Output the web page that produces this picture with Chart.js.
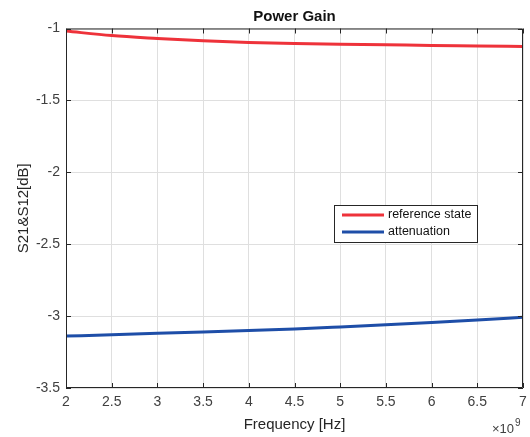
<!DOCTYPE html>
<html>
<head>
<meta charset="utf-8">
<script src="https://cdn.jsdelivr.net/npm/chart.js@4.4.0/dist/chart.umd.min.js"></script>
<style>
  html, body { margin: 0; padding: 0; background: #fff; }
  #wrap { width: 530px; height: 437px; }
</style>
</head>
<body>
<div id="wrap"><canvas id="myChart" width="530" height="437"></canvas></div>
<script>
// frequency in GHz (axis shows x10^9)
var freq = [2, 2.5, 3, 3.5, 4, 4.5, 5, 5.5, 6, 6.5, 7];
var refState = [-1.018, -1.049, -1.069, -1.086, -1.097, -1.104, -1.109, -1.113, -1.118, -1.121, -1.125];
var atten = [-3.139, -3.130, -3.120, -3.110, -3.100, -3.089, -3.075, -3.060, -3.044, -3.027, -3.008];
var yTicks = [-1, -1.5, -2, -2.5, -3, -3.5];
var xTicks = [2, 2.5, 3, 3.5, 4, 4.5, 5, 5.5, 6, 6.5, 7];

var axisColor = "#262626";
var textColor = "#404040";
var fontFam = "'Liberation Sans', Arial, sans-serif";

function toPoints(xs, ys) {
    var out = [];
    for (var i = 0; i < xs.length; i++) out.push({x: xs[i], y: ys[i]});
    return out;
}

// plain number labels like matlab (no trailing .0)
function plainLabel(v) { return String(v); }

// box, inner ticks, exponent and legend (matlab style)
var matlabBox = {
    id: "matlabBox",
    afterDraw: function(chart) {
        var ctx = chart.ctx;
        var a = chart.chartArea;
        var xs = chart.scales.x, ys = chart.scales.y;
        ctx.save();
        ctx.strokeStyle = axisColor;
        ctx.lineWidth = 1;
        ctx.beginPath();
        ctx.rect(a.left + 0.5, a.top + 0.5, a.right - a.left - 1, a.bottom - a.top - 1);
        for (var i = 0; i < xTicks.length; i++) {
            var px = Math.round(xs.getPixelForValue(xTicks[i])) + 0.5;
            ctx.moveTo(px, a.bottom); ctx.lineTo(px, a.bottom - 5);
            ctx.moveTo(px, a.top); ctx.lineTo(px, a.top + 5);
        }
        for (var j = 0; j < yTicks.length; j++) {
            var py = Math.round(ys.getPixelForValue(yTicks[j])) + 0.5;
            ctx.moveTo(a.left, py); ctx.lineTo(a.left + 5, py);
            ctx.moveTo(a.right, py); ctx.lineTo(a.right - 5, py);
        }
        ctx.stroke();

        // exponent
        ctx.fillStyle = textColor;
        ctx.textBaseline = "alphabetic";
        ctx.textAlign = "left";
        ctx.font = "13px " + fontFam;
        ctx.fillText("\u00d710", 492, 433);
        ctx.font = "10px " + fontFam;
        ctx.fillText("9", 515, 426);

        // legend
        var lx = 334, ly = 205, lw = 143, lh = 37;
        ctx.fillStyle = "#fff";
        ctx.fillRect(lx, ly, lw, lh);
        ctx.strokeStyle = axisColor;
        ctx.strokeRect(lx + 0.5, ly + 0.5, lw, lh);
        var ds = chart.data.datasets;
        ctx.font = "12.5px " + fontFam;
        ctx.textBaseline = "middle";
        for (var k = 0; k < ds.length; k++) {
            var yy = 215 + k * 17;
            ctx.strokeStyle = ds[k].borderColor;
            ctx.lineWidth = 3;
            ctx.beginPath();
            ctx.moveTo(342, yy); ctx.lineTo(384, yy);
            ctx.stroke();
            ctx.fillStyle = "#111";
            ctx.fillText(ds[k].label, 388, yy);
        }
        ctx.restore();
    }
};

var ctx = document.getElementById("myChart");

var myLineChart = new Chart(ctx, {
    type: "line",
    data: {
        datasets: [
            {
                label: "reference state",
                data: toPoints(freq, refState),
                borderColor: "rgb(238,50,58)",
                borderWidth: 3,
                pointRadius: 0,
                fill: false,
                cubicInterpolationMode: "monotone"
            },
            {
                label: "attenuation",
                data: toPoints(freq, atten),
                borderColor: "rgb(30,78,168)",
                borderWidth: 3,
                pointRadius: 0,
                fill: false,
                cubicInterpolationMode: "monotone"
            }
        ]
    },
    options: {
        responsive: false,
        animation: false,
        layout: { padding: { left: 0, right: 7, top: 0, bottom: 0 } },
        plugins: {
            legend: { display: false },
            tooltip: { enabled: false },
            title: {
                display: true,
                fullSize: false,
                text: "Power Gain",
                color: "#111",
                font: { family: fontFam, size: 15, weight: "bold" },
                padding: { top: 8, bottom: 2.5 }
            }
        },
        scales: {
            x: {
                type: "linear",
                min: 2, max: 7,
                afterFit: function(scale) {
                    scale.height = 49;
                    scale.paddingRight = 0;
                    scale.paddingLeft = 0;
                },
                afterBuildTicks: function(scale) {
                    scale.ticks = xTicks.map(function(v) { return {value: v}; });
                },
                ticks: {
                    color: textColor,
                    font: { family: fontFam, size: 14 },
                    padding: 6,
                    maxRotation: 0,
                    autoSkip: false,
                    callback: plainLabel
                },
                grid: { color: "rgb(223,223,223)", drawTicks: false },
                border: { display: false },
                title: {
                    display: true,
                    text: "Frequency [Hz]",
                    color: "#262626",
                    font: { family: fontFam, size: 15 },
                    padding: { top: 0, bottom: 3 }
                }
            },
            y: {
                min: -3.5, max: -1,
                afterFit: function(scale) { scale.width = 66; },
                afterBuildTicks: function(scale) {
                    scale.ticks = yTicks.map(function(v) { return {value: v}; });
                },
                ticks: {
                    color: textColor,
                    font: { family: fontFam, size: 14 },
                    padding: 6,
                    autoSkip: false,
                    callback: plainLabel
                },
                grid: { color: "rgb(223,223,223)", drawTicks: false },
                border: { display: false },
                title: {
                    display: true,
                    text: "S21&S12[dB]",
                    color: "#262626",
                    font: { family: fontFam, size: 15 },
                    padding: { top: 15, bottom: 0 }
                }
            }
        }
    },
    plugins: [matlabBox]
});
</script>
</body>
</html>
